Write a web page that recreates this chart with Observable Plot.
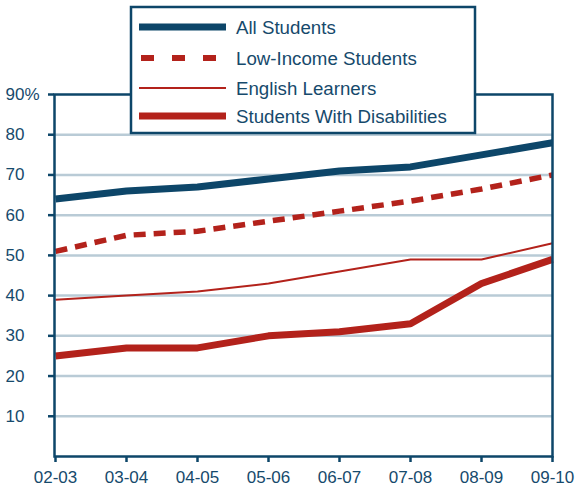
<!DOCTYPE html>
<html>
<head>
<meta charset="utf-8">
<script src="https://cdn.jsdelivr.net/npm/d3@7"></script>
<script src="https://cdn.jsdelivr.net/npm/@observablehq/plot@0.6"></script>
<style>
  html, body { margin: 0; padding: 0; background: #fff; }
  #wrap { position: relative; width: 578px; height: 488px; font-family: "Liberation Sans", Arial, sans-serif; }
  #chart svg { display: block; }
  #legend { position: absolute; left: 0; top: 0; }
</style>
</head>
<body>
<div id="wrap">
  <div id="chart"></div>
  <svg id="legend" width="578" height="140"></svg>
</div>
<script>
const categories = ["02-03", "03-04", "04-05", "05-06", "06-07", "07-08", "08-09", "09-10"];
const allStudents = [64, 66, 67, 69, 71, 72, 75, 78];
const lowIncome = [51, 55, 56, 58.5, 61, 63.5, 66.5, 70];
const englishLearners = [39, 40, 41, 43, 46, 49, 49, 53];
const disabilities = [25, 27, 27, 30, 31, 33, 43, 49];
const yTicks = [10, 20, 30, 40, 50, 60, 70, 80, 90];
const yTickLabels = ["10", "20", "30", "40", "50", "60", "70", "80", "90%"];
const gridValues = [10, 20, 30, 40, 50, 60, 70, 80];

const BLUE = "#0d4669";
const RED = "#b3221b";
const GRID = "#b9cbd6";
const TEXT = "#164a6c";

const seriesDefs = [
  { name: "All Students", values: allStudents, stroke: BLUE, width: 7, dash: null, legendDash: null },
  { name: "Low-Income Students", values: lowIncome, stroke: RED, width: 5.5, dash: "12,8", legendDash: "13,18" },
  { name: "English Learners", values: englishLearners, stroke: RED, width: 2, dash: null, legendDash: null },
  { name: "Students With Disabilities", values: disabilities, stroke: RED, width: 7, dash: null, legendDash: null }
];

const toRows = (vals) => categories.map((c, i) => ({ cat: c, v: vals[i] }));

const lineMarks = seriesDefs.map(s => Plot.line(toRows(s.values), {
  x: "cat", y: "v", stroke: s.stroke, strokeWidth: s.width,
  strokeDasharray: s.dash, strokeLinejoin: "miter", strokeLinecap: "butt"
}));

const chart = Plot.plot({
  width: 578,
  height: 488,
  marginLeft: 54,
  marginRight: 26,
  marginTop: 94,
  marginBottom: 32,
  style: { fontFamily: "Liberation Sans, Arial, sans-serif", background: "#fff" },
  x: { type: "point", domain: categories, padding: 0, label: null },
  y: { domain: [0, 90], label: null },
  marks: [
    Plot.ruleY(gridValues, { stroke: GRID, strokeWidth: 2.5 }),
    ...lineMarks,
    Plot.axisY({ ticks: yTicks, tickSize: 6, tickFormat: () => "", stroke: BLUE, strokeWidth: 2.5, label: null }),
    Plot.text(yTicks, { y: d => d, text: (d, i) => yTickLabels[i], frameAnchor: "left", dx: -49, textAnchor: "start", fill: TEXT, fontSize: 17 }),
    Plot.axisX({ ticks: categories, tickSize: 6, tickPadding: 8, stroke: BLUE, strokeWidth: 2.5, fill: TEXT, fontSize: 17, label: null }),
    Plot.frame({ stroke: BLUE, strokeWidth: 2.5 })
  ]
});
document.getElementById("chart").appendChild(chart);

// Legend box overlapping the top of the plot
const lg = d3.select("#legend");
lg.append("rect")
  .attr("x", 131).attr("y", 7).attr("width", 344).attr("height", 126)
  .attr("fill", "#fff").attr("stroke", BLUE).attr("stroke-width", 2.5);
const rowY = [27, 58, 88, 116];
seriesDefs.forEach((s, i) => {
  lg.append("line")
    .attr("x1", 139).attr("x2", 226).attr("y1", rowY[i]).attr("y2", rowY[i])
    .attr("stroke", s.stroke).attr("stroke-width", s.width === 5.5 ? 6 : s.width)
    .attr("stroke-dasharray", s.legendDash ? s.legendDash : null)
    .attr("stroke-dashoffset", s.legendDash ? -2 : null);
  lg.append("text")
    .attr("x", 236).attr("y", rowY[i]).attr("dy", "0.35em")
    .attr("fill", TEXT)
    .attr("font-size", 18.7)
    .attr("font-family", "Liberation Sans, Arial, sans-serif")
    .text(s.name);
});
</script>
</body>
</html>
